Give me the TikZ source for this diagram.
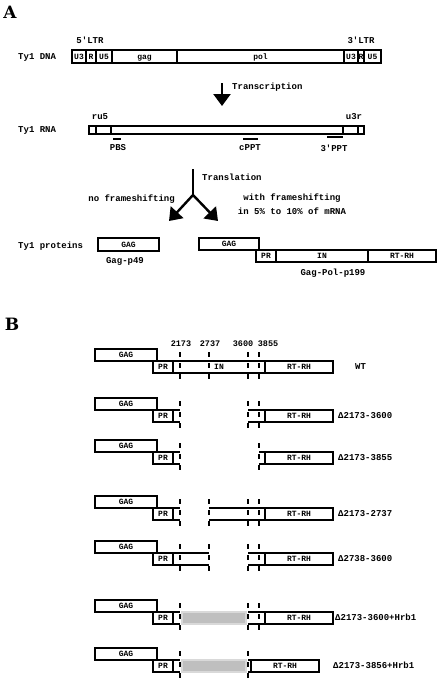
\documentclass[tikz,border=0pt]{standalone}
\usepackage{fontspec}
\newfontfamily\monob{Liberation Mono}
\newfontfamily\slab{DejaVu Serif}
\usetikzlibrary{arrows.meta}

\tikzset{
  segline/.style={line width=2pt},
  segtxt/.style={font=\monob\bfseries\fontsize{8}{9}\selectfont, inner sep=0pt, text height=1.4ex, text depth=0.2ex},
  lbl/.style={font=\monob\bfseries\fontsize{9}{10}\selectfont, inner sep=0pt},
  numtxt/.style={font=\monob\bfseries\fontsize{8.5}{9}\selectfont, inner sep=0pt},
  panel/.style={font=\slab\bfseries\fontsize{17}{17}\selectfont, inner sep=0pt},
  cut/.style={line width=2.2pt, dash pattern=on 5pt off 6pt},
  sitebar/.style={line width=2.6pt},
  bigarrow/.style={line width=2.4pt, -{Triangle[width=17pt,length=12pt]}},
}
% box with a named text node in its middle
\newcommand{\seg}[6]{\draw[segline] (#2,#3) rectangle (#4,#5);
  \node[segtxt] (#1) at ({(#2+#4)/2},{(#3+#5)/2}) {#6};}
% GAG and PR of one row in B
\newcommand{\gagpr}[2]{\seg{#1gag}{95}{#2}{157}{#2+12}{GAG}
  \seg{#1pr}{153}{#2+12}{173}{#2+24}{PR}}
% dashed cut line
\newcommand{\cutat}[2]{\draw[cut] (#1,#2+3) -- (#1,#2+30);}
% open piece of the IN bar
\newcommand{\stub}[3]{\draw[segline] (#1,#3+12) -- (#2,#3+12) (#1,#3+24) -- (#2,#3+24);}

\begin{document}
\begin{tikzpicture}[x=1pt,y=-1pt]
\useasboundingbox (0,0) rectangle (441,680);

%% A
\node[panel] (panA) at (10,12) {A};
\node[lbl] (ltr5) at (90,40) {5'LTR};
\node[lbl] (ltr3) at (361,40) {3'LTR};
\node[lbl, anchor=west] (dnalbl) at (18,57) {Ty1 DNA};
\foreach \a/\b/\t/\n in {72/86/U3/a,86/96/R/b,96/112/U5/c,112/177/gag/d,177/344/pol/e,344/358/U3/f,358/364/R/g,364/381/U5/h}
  {\seg{dna\n}{\a}{50}{\b}{63}{\t}} % DNA segments

\coordinate (tcTop) at (222,83);
\coordinate (tcTip) at (222,106);
\draw[bigarrow] (tcTop) -- (tcTip);
\node[lbl, anchor=west] (tclbl) at (232,87) {Transcription};

\node[lbl] (ru5) at (100,117) {ru5};
\node[lbl] (u3r) at (354,117) {u3r};
\node[lbl, anchor=west] (rnalbl) at (18,130) {Ty1 RNA};
\draw[segline] (89,126) rectangle (364,134);
\foreach \x in {96,111,343,358} % RNA dividers
  {\draw[segline] (\x,126) -- (\x,134);}
\draw[sitebar] (113,139) -- (121,139);
\draw[sitebar] (243,139) -- (258,139);
\draw[sitebar] (327,137) -- (343,137);
\node[lbl] (pbs) at (118,148) {PBS};
\node[lbl] (cppt) at (250,148) {cPPT};
\node[lbl] (ppt3) at (334,148) {3'PPT};

\coordinate (tlTop) at (193,169);
\coordinate (tlFork) at (193,195);
\coordinate (tlLeft) at (169,221);
\coordinate (tlRight) at (218,221);
\draw[line width=2.4pt] (tlTop) -- (tlFork);
\draw[bigarrow] (tlFork) -- (tlLeft);
\draw[bigarrow] (tlFork) -- (tlRight);
\node[lbl, anchor=west] (tllbl) at (202,177) {Translation};
\node[lbl, anchor=east] (nofs) at (175,199) {no frameshifting};
\node[lbl] (wfs) at (292,198) {with frameshifting};
\node[lbl] (wfs2) at (292,211) {in 5\% to 10\% of mRNA};

\node[lbl, anchor=west] (protlbl) at (18,246) {Ty1 proteins};
\seg{p49gag}{98}{238}{159}{251}{GAG}
\node[lbl] (p49) at (125,261) {Gag-p49};
\seg{p199gag}{199}{238}{259}{250}{GAG}
\seg{p199pr}{256}{250}{276}{262}{PR}
\seg{p199in}{276}{250}{368}{262}{IN}
\seg{p199rt}{368}{250}{436}{262}{RT-RH}
\node[lbl] (p199) at (333,273) {Gag-Pol-p199};

%% B
\node[panel] (panB) at (12,324) {B};
\foreach \x/\n in {181/2173,210/2737,243/3600,268/3855}
  {\node[numtxt] (n\n) at (\x,344) {\n};}

% WT
\gagpr{wt}{349}
\seg{wtin}{173}{361}{265}{373}{IN}
\seg{wtrt}{265}{361}{333}{373}{RT-RH}
\foreach \x in {180,209,248,259} {\cutat{\x}{349}}
\node[lbl, anchor=west] (wtlbl) at (355,367) {WT};

% d2173-3600
\gagpr{da}{398}
\stub{173}{180}{398} \stub{248}{265}{398}
\seg{dart}{265}{410}{333}{422}{RT-RH}
\foreach \x in {180,248,259} {\cutat{\x}{398}}
\node[lbl, anchor=west] (dalbl) at (338,416) {Δ2173-3600};

% d2173-3855
\gagpr{db}{440}
\stub{173}{180}{440} \stub{259}{265}{440}
\seg{dbrt}{265}{452}{333}{464}{RT-RH}
\foreach \x in {180,259} {\cutat{\x}{440}}
\node[lbl, anchor=west] (dblbl) at (338,458) {Δ2173-3855};

% d2173-2737
\gagpr{dc}{496}
\stub{173}{180}{496} \stub{209}{265}{496}
\seg{dcrt}{265}{508}{333}{520}{RT-RH}
\foreach \x in {180,209,248,259} {\cutat{\x}{496}}
\node[lbl, anchor=west] (dclbl) at (338,514) {Δ2173-2737};

% d2738-3600
\gagpr{dd}{541}
\stub{173}{209}{541} \stub{248}{265}{541}
\seg{ddrt}{265}{553}{333}{565}{RT-RH}
\foreach \x in {180,209,248,259} {\cutat{\x}{541}}
\node[lbl, anchor=west] (ddlbl) at (338,559) {Δ2738-3600};

% d2173-3600+Hrb1
\gagpr{de}{600}
\fill[gray!30] (181,611) rectangle (247,625);
\fill[gray!50] (183,613) rectangle (245,623);
\stub{173}{180}{600} \stub{248}{265}{600}
\seg{dert}{265}{612}{333}{624}{RT-RH}
\foreach \x in {180,248,259} {\cutat{\x}{600}}
\node[lbl, anchor=west] (delbl) at (335,617) {Δ2173-3600+Hrb1};

% d2173-3856+Hrb1
\gagpr{df}{648}
\fill[gray!30] (181,659) rectangle (247,673);
\fill[gray!50] (183,661) rectangle (245,671);
\stub{173}{180}{648} \stub{248}{251}{648}
\seg{dfrt}{251}{660}{319}{672}{RT-RH}
\foreach \x in {180,248} {\cutat{\x}{648}}
\node[lbl, anchor=west] (dflbl) at (333,665) {Δ2173-3856+Hrb1};
\end{tikzpicture}
\end{document}
